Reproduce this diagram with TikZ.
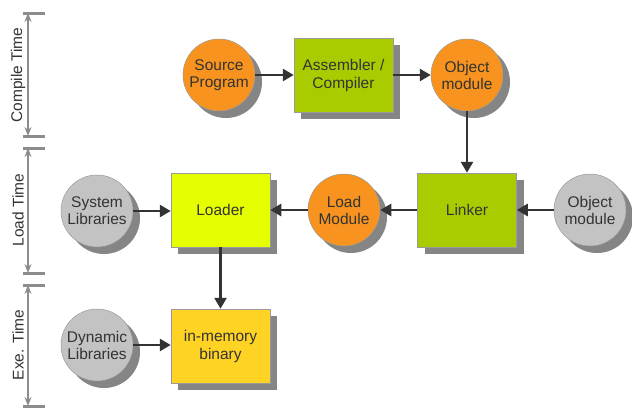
\documentclass[tikz,border=0pt]{standalone}
\usepackage{fontspec}
\setmainfont{Liberation Sans}
\usetikzlibrary{arrows.meta,shadows}
\definecolor{orng}{HTML}{F7931E}
\definecolor{grn}{HTML}{A8CC00}
\definecolor{ylw}{HTML}{E6FF00}
\definecolor{gold}{HTML}{FFD324}
\definecolor{lgray}{HTML}{C3C3C3}
\definecolor{shd}{HTML}{858585}
\definecolor{txt}{HTML}{333333}
\definecolor{edge}{HTML}{9A9A9A}
\definecolor{tl}{HTML}{8C8C8C}
\tikzset{
  shd/.style={drop shadow={shadow xshift=7pt,shadow yshift=-7pt,fill=shd,opacity=1}},
  circ/.style={circle,draw=edge,line width=0.5pt,minimum size=72pt,inner sep=0pt,align=center,text=txt,font=\fontsize{15.5}{17}\selectfont,shd},
  boxx/.style={rectangle,draw=edge,line width=0.5pt,minimum width=99pt,minimum height=74pt,inner sep=0pt,align=center,text=txt,font=\fontsize{15.5}{18}\selectfont,shd},
  arr/.style={draw=txt,line width=2.6pt,-{Triangle[length=11pt,width=12pt]}},
  bar/.style={draw=tl,line width=3pt},
  dim/.style={draw=tl,line width=1.2pt,{Stealth[length=9pt,width=7pt]}-{Stealth[length=9pt,width=7pt]}},
  tlab/.style={rotate=90,text=txt,font=\fontsize{15.5}{16}\selectfont}
}
\begin{document}
\begin{tikzpicture}[x=1pt,y=-1pt]
\useasboundingbox (0,0) rectangle (632,408);
% timeline
\coordinate (c1) at (28,13); \coordinate (c2) at (28,136);
\coordinate (l1) at (28,148); \coordinate (l2) at (28,273);
\coordinate (e1) at (28,285); \coordinate (e2) at (28,406);
\foreach \y in {13,136,148,273,285,406} \draw[bar] (23,\y) -- (45,\y);
\draw[dim] (c1) -- (c2);
\draw[dim] (l1) -- (l2);
\draw[dim] (e1) -- (e2);
\node[tlab] (tc) at (18,75) {Compile Time};
\node[tlab] (tlt) at (18,210) {Load Time};
\node[tlab] (te) at (18,345) {Exe. Time};
% nodes
\node[circ,fill=orng] (src) at (219,75) {Source\\Program};
\node[boxx,fill=grn] (asm) at (343.5,75) {Assembler /\\Compiler};
\node[circ,fill=orng] (obj) at (467,75) {Object\\module};
\node[boxx,fill=grn] (lnk) at (467,210) {Linker};
\node[circ,fill=lgray] (obj2) at (590,210) {Object\\module};
\node[circ,fill=orng] (lm) at (344,210) {Load\\Module};
\node[boxx,fill=ylw] (ldr) at (220.5,210) {Loader};
\node[circ,fill=lgray] (sys) at (97,211) {System\\Libraries};
\node[boxx,fill=gold] (bin) at (220.5,346) {in-memory\\binary};
\node[circ,fill=lgray] (dyn) at (97,345) {Dynamic\\Libraries};
% connectors
\draw[arr] (src) -- (asm);
\draw[arr] (asm) -- (obj);
\draw[arr] (obj) -- (lnk);
\draw[arr] (obj2) -- (lnk);
\draw[arr] (lnk) -- (lm);
\draw[arr] (lm) -- (ldr);
\draw[arr] (sys) -- (sys -| ldr.west);
\draw[arr] (ldr) -- (bin);
\draw[arr] (dyn) -- (dyn -| bin.west);
\end{tikzpicture}
\end{document}
